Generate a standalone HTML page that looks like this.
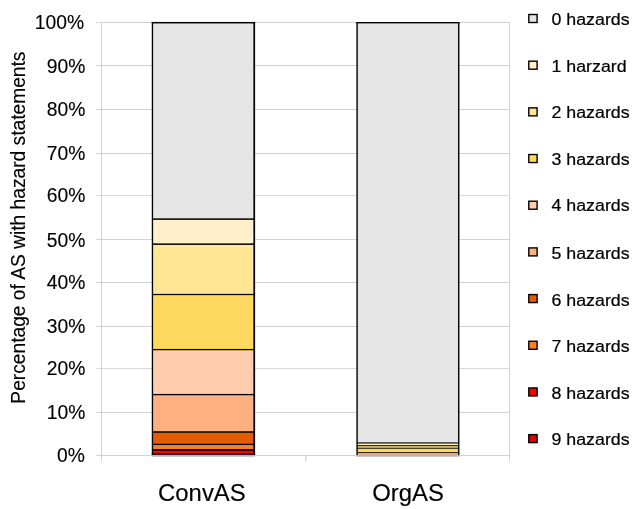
<!DOCTYPE html>
<html><head><meta charset="utf-8"><title>Percentage of AS with hazard statements</title>
<style>
html,body{margin:0;padding:0;background:#fff;}
body{width:642px;height:509px;overflow:hidden;}
svg{display:block;font-family:"Liberation Sans",sans-serif;}
text{stroke:#000;stroke-width:0.12px;stroke-linejoin:round;}
.lg text{stroke-width:0.22px;}
.cat text{stroke-width:0.15px;}
.ax{font-size:19.3px;fill:#000;}
.cat{font-size:23.9px;fill:#000;}
.lg{font-size:17.8px;fill:#000;}
.yt{font-size:19.2px;fill:#000;}
</style></head><body>
<svg width="642" height="509" viewBox="0 0 642 509">
<rect width="642" height="509" fill="#fff"/>

<g fill="#d2d2d2">
<rect x="96" y="455" width="414" height="1"/>
<rect x="96" y="412" width="414" height="1"/>
<rect x="96" y="368" width="414" height="1" fill="#d8d8d8"/>
<rect x="96" y="326" width="414" height="1"/>
<rect x="96" y="282" width="414" height="1"/>
<rect x="96" y="239" width="414" height="1"/>
<rect x="96" y="195" width="414" height="1" fill="#dadada"/>
<rect x="96" y="153" width="414" height="1"/>
<rect x="96" y="109" width="414" height="1"/>
<rect x="96" y="65" width="414" height="1"/>
<rect x="96" y="22" width="414" height="1"/>
<rect x="101" y="22" width="1" height="439.4"/>
<rect x="305" y="455" width="1.6" height="6.4" fill="#dcdcdc"/>
<rect x="509" y="22" width="1" height="439.4"/>
</g>
<g class="ax" text-anchor="end">
<text x="84.9" y="462.3">0%</text>
<text x="85.3" y="419.3">10%</text>
<text x="85.3" y="375.3">20%</text>
<text x="85.3" y="332.9">30%</text>
<text x="85.3" y="289.3">40%</text>
<text x="85.3" y="246.7">50%</text>
<text x="85.3" y="202.3">60%</text>
<text x="85.3" y="160.3">70%</text>
<text x="85.3" y="116.3">80%</text>
<text x="85.3" y="72.8">90%</text>
<text x="84.1" y="29.3">100%</text>
</g>
<g>
<rect x="152.45" y="22.7" width="101.80" height="196.40" fill="#e5e5e5"/>
<rect x="152.45" y="219.1" width="101.80" height="25.05" fill="#fff0cb"/>
<rect x="152.45" y="244.15" width="101.80" height="50.35" fill="#ffe695"/>
<rect x="152.45" y="294.5" width="101.80" height="55.10" fill="#ffd85e"/>
<rect x="152.45" y="349.6" width="101.80" height="45.00" fill="#ffccae"/>
<rect x="152.45" y="394.6" width="101.80" height="37.40" fill="#ffb080"/>
<rect x="152.45" y="432.0" width="101.80" height="12.40" fill="#e55c00"/>
<rect x="152.45" y="444.4" width="101.80" height="5.50" fill="#ff8020"/>
<rect x="152.45" y="449.9" width="101.80" height="4.15" fill="#ff0000"/>
<rect x="151.77" y="454.9" width="103.33" height="1.8" fill="#b4b4b4"/>
<rect x="151.77" y="21.95" width="103.33" height="1.5" fill="#000"/>
<rect x="152.45" y="218.35" width="101.80" height="1.5" fill="#000"/>
<rect x="152.45" y="243.40" width="101.80" height="1.5" fill="#000"/>
<rect x="152.45" y="293.88" width="101.80" height="1.25" fill="#000"/>
<rect x="152.45" y="348.95" width="101.80" height="1.3" fill="#000"/>
<rect x="152.45" y="393.95" width="101.80" height="1.3" fill="#000"/>
<rect x="152.45" y="431.25" width="101.80" height="1.5" fill="#000"/>
<rect x="152.45" y="443.75" width="101.80" height="1.3" fill="#000"/>
<rect x="152.45" y="449.05" width="101.80" height="1.7" fill="#000"/>
<rect x="151.77" y="453.25" width="103.33" height="1.6" fill="#000"/>
<rect x="151.77" y="21.95" width="1.35" height="432.90" fill="#000" fill-opacity="1"/>
<rect x="253.40" y="21.95" width="1.7" height="432.90" fill="#000" fill-opacity="1"/>
<rect x="357.1" y="22.7" width="101.65" height="420.20" fill="#e5e5e5"/>
<rect x="357.1" y="442.9" width="101.65" height="2.60" fill="#fff0c4"/>
<rect x="357.1" y="445.5" width="101.65" height="2.80" fill="#c8b66c"/>
<rect x="357.1" y="448.3" width="101.65" height="4.20" fill="#ffd855"/>
<rect x="357.1" y="452.5" width="101.65" height="2.40" fill="#f4a474"/>
<rect x="356.20" y="454.9" width="103.25" height="1.8" fill="#b4b4b4"/>
<rect x="356.20" y="22.00" width="103.25" height="1.4" fill="#000"/>
<rect x="357.1" y="442.10" width="101.65" height="1.6" fill="#484844"/>
<rect x="357.1" y="445.10" width="101.65" height="0.8" fill="#000"/>
<rect x="357.1" y="447.90" width="101.65" height="0.8" fill="#000"/>
<rect x="357.1" y="452.10" width="101.65" height="0.8" fill="#000"/>
<rect x="356.20" y="22.00" width="1.8" height="432.90" fill="#000" fill-opacity="0.78"/>
<rect x="458.05" y="22.00" width="1.4" height="432.90" fill="#000" fill-opacity="1"/>
</g>
<g class="cat" text-anchor="middle">
<text transform="translate(201.9,501.3) scale(1,1.03)">ConvAS</text>
<text transform="translate(408,501.3) scale(1,1.03)">OrgAS</text>
</g>
<text class="yt" text-anchor="middle" transform="translate(24.9,227.6) rotate(-90) scale(1,1.03)">Percentage of AS with hazard statements</text>
<g class="lg">
<rect x="528.8" y="14.50" width="8.3" height="8.0" fill="#e5e5e5" stroke="#000" stroke-width="1.4"/>
<text transform="translate(551.5,25.4) scale(1,0.96)">0 hazards</text>
<rect x="528.8" y="61.18" width="8.3" height="8.0" fill="#fff0cb" stroke="#000" stroke-width="1.4"/>
<text transform="translate(551.5,72.0) scale(1,0.96)">1 harzard</text>
<rect x="528.8" y="107.86" width="8.3" height="8.0" fill="#ffe695" stroke="#000" stroke-width="1.4"/>
<text transform="translate(551.5,118.3) scale(1,0.96)">2 hazards</text>
<rect x="528.8" y="154.54" width="8.3" height="8.0" fill="#ffd85e" stroke="#000" stroke-width="1.4"/>
<text transform="translate(551.5,164.7) scale(1,0.96)">3 hazards</text>
<rect x="528.8" y="201.22" width="8.3" height="8.0" fill="#ffccae" stroke="#000" stroke-width="1.4"/>
<text transform="translate(551.5,211.1) scale(1,0.96)">4 hazards</text>
<rect x="528.8" y="247.90" width="8.3" height="8.0" fill="#ffb080" stroke="#000" stroke-width="1.4"/>
<text transform="translate(551.5,259.3) scale(1,0.96)">5 hazards</text>
<rect x="528.8" y="294.58" width="8.3" height="8.0" fill="#e55c00" stroke="#000" stroke-width="1.4"/>
<text transform="translate(551.5,305.6) scale(1,0.96)">6 hazards</text>
<rect x="528.8" y="341.26" width="8.3" height="8.0" fill="#ff8020" stroke="#000" stroke-width="1.4"/>
<text transform="translate(551.5,352.2) scale(1,0.96)">7 hazards</text>
<rect x="528.8" y="387.94" width="8.3" height="8.0" fill="#ff0000" stroke="#000" stroke-width="1.4"/>
<text transform="translate(551.5,398.6) scale(1,0.96)">8 hazards</text>
<rect x="528.8" y="434.62" width="8.3" height="8.0" fill="#e00000" stroke="#000" stroke-width="1.4"/>
<text transform="translate(551.5,445.0) scale(1,0.96)">9 hazards</text>
</g>
</svg>
</body></html>
